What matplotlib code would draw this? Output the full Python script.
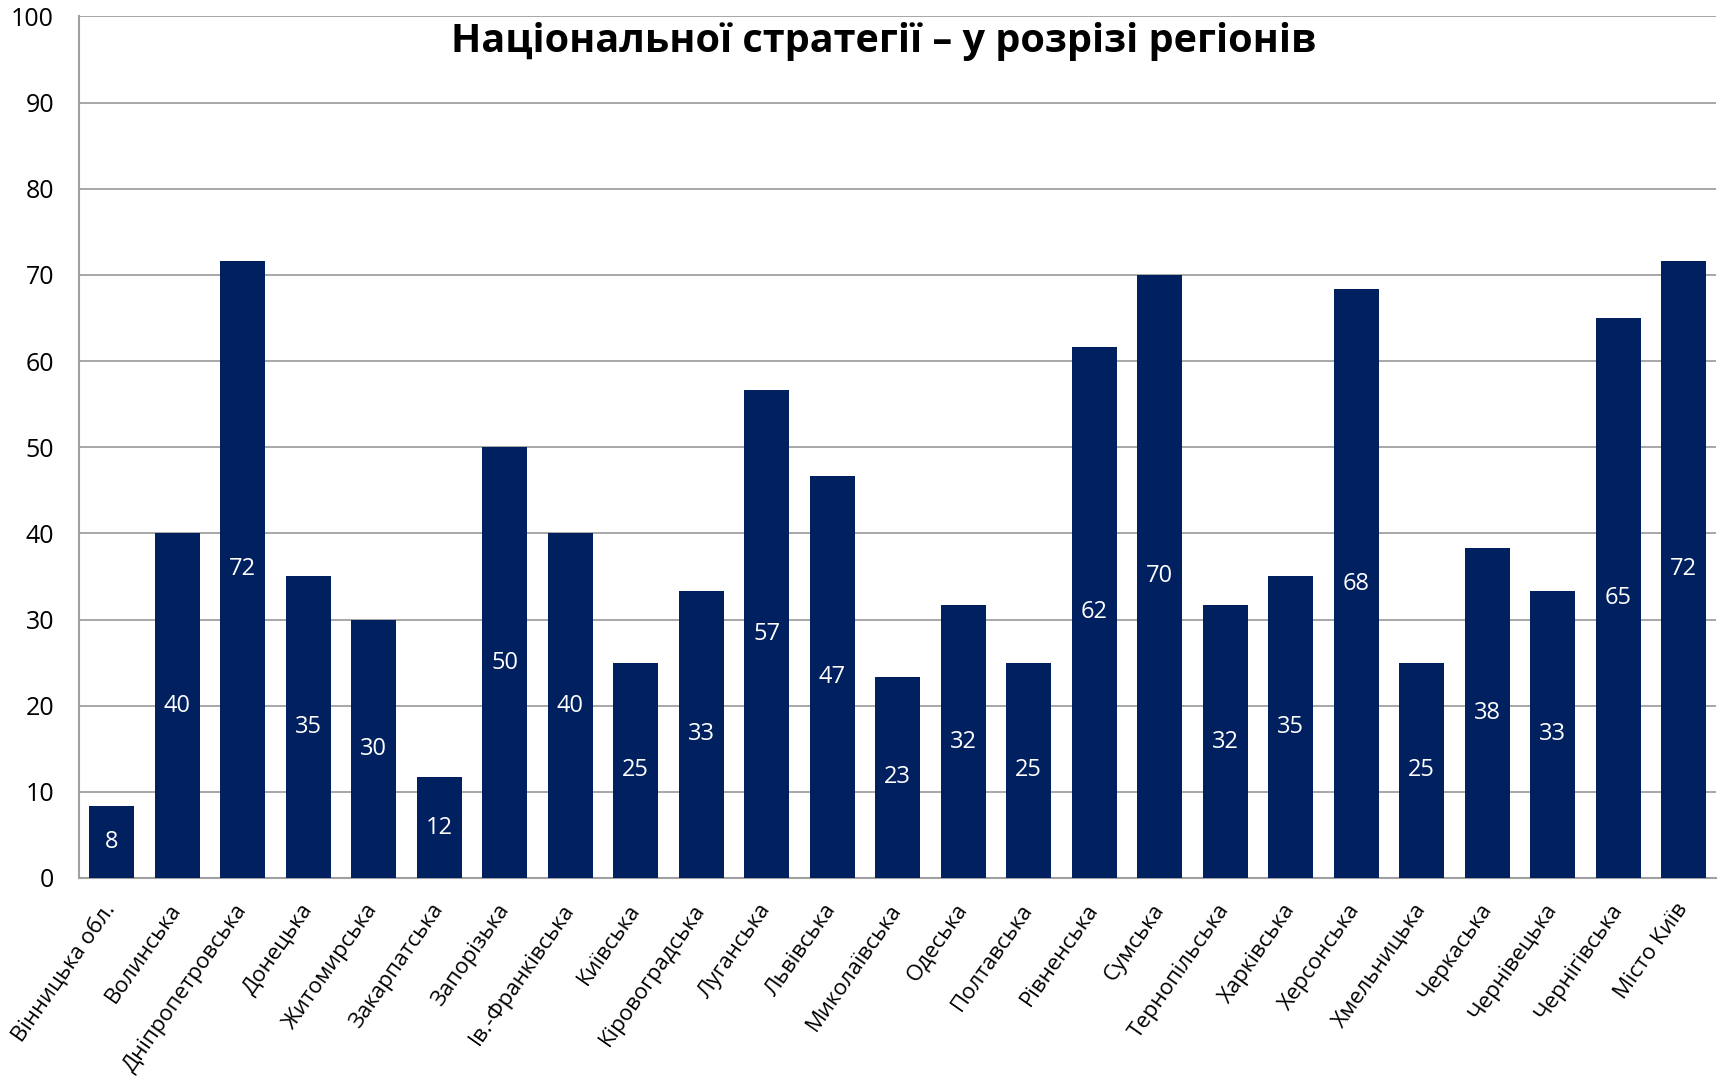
import matplotlib
matplotlib.use("Agg")
import matplotlib.pyplot as plt

plt.rcParams['font.family'] = ['Open Sans', 'DejaVu Sans']

regions = ["Вінницька обл.", "Волинська", "Дніпропетровська", "Донецька", "Житомирська",
           "Закарпатська", "Запорізька", "Ів.-Франківська", "Київська", "Кіровоградська",
           "Луганська", "Львівська", "Миколаївська", "Одеська", "Полтавська",
           "Рівненська", "Сумська", "Тернопільська", "Харківська", "Херсонська",
           "Хмельницька", "Черкаська", "Чернівецька", "Чернігівська", "Місто Київ"]
values = [8.33, 40.0, 71.67, 35.0, 30.0, 11.67, 50.0, 40.0, 25.0, 33.33,
          56.67, 46.67, 23.33, 31.67, 25.0, 61.67, 70.0, 31.67, 35.0, 68.33,
          25.0, 38.33, 33.33, 65.0, 71.67]
yticks = [0, 10, 20, 30, 40, 50, 60, 70, 80, 90, 100]
title = "Національної стратегії – у розрізі регіонів"

fig = plt.figure(figsize=(17.2, 10.81), dpi=100)
ax = fig.add_axes([0.0459, 0.1878, 0.952, 0.797])

x = range(len(regions))
ax.bar(x, values, width=0.69, color='#002060', zorder=3)
for xi, v in zip(x, values):
    ax.text(xi, v / 2, f"{v:.0f}", ha='center', va='center', color='white',
            fontsize=17, zorder=4)

ax.set_xlim(-0.5, len(regions) - 0.5)
ax.set_ylim(0, 100)
ax.set_yticks(yticks)
ax.set_yticklabels([str(t) for t in yticks], fontsize=18)
ax.yaxis.grid(True, color='#a0a0a0', linewidth=1.3, zorder=0)
ax.tick_params(axis='y', length=0, pad=18)
ax.set_xticks(list(x))
ax.set_xticklabels(regions, rotation=55, ha='right', va='center',
                   rotation_mode='anchor', fontsize=16)
ax.tick_params(axis='x', length=0, pad=20)
for s in ['top', 'right']:
    ax.spines[s].set_visible(False)
for s in ['left', 'bottom']:
    ax.spines[s].set_color('#a0a0a0')
    ax.spines[s].set_linewidth(1.5)

fig.text(0.514, 0.962, title, ha='center', va='center', fontsize=28.5,
         fontweight='bold')

fig.savefig("out.png", dpi=100)
